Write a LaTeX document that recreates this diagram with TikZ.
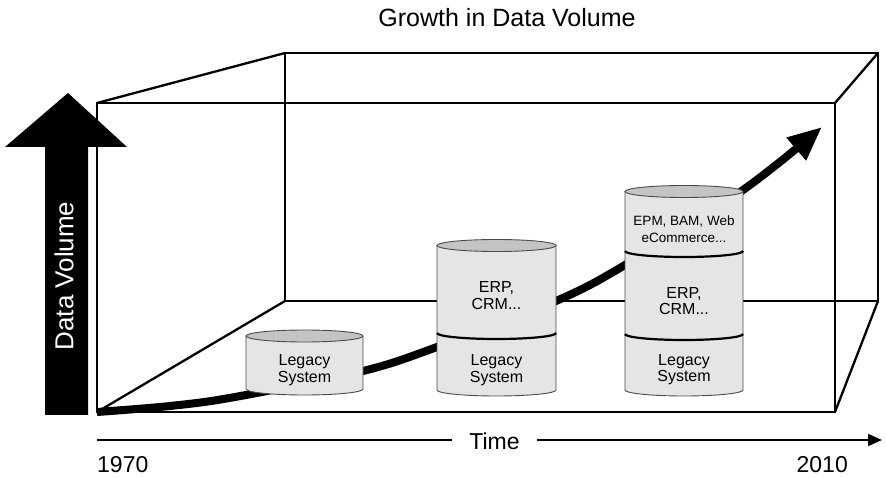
\documentclass[tikz,border=0pt]{standalone}
\usepackage{fontspec}
\setmainfont{Liberation Sans}
\usetikzlibrary{arrows.meta}

\definecolor{drumside}{gray}{0.90}
\definecolor{drumlid}{gray}{0.77}
\definecolor{drumedge}{gray}{0.30}

\tikzset{
  frame/.style={line width=2.3pt, line join=miter},
  drumbody/.style={draw=drumedge, line width=0.9pt, fill=drumside},
  drumtop/.style={draw=drumedge, line width=0.9pt, fill=drumlid},
  divider/.style={line width=2.2pt},
  growth/.style={line width=8pt, -{Triangle[length=34pt,width=28pt]}},
  axis/.style={line width=2pt},
  drumtext/.style={align=center, font=\fontsize{16}{16.5}\selectfont, inner sep=0pt},
}

% drum: name, centre x, half width, lid y, floor y
\newcommand{\drum}[5]{%
  \filldraw[drumbody] (#2-#3,#4) -- (#2-#3,#5)
    arc[start angle=180, end angle=0, x radius=#3, y radius=6] -- (#2+#3,#4) -- cycle;
  \filldraw[drumtop] (#2,#4) ellipse[x radius=#3, y radius=6];
  \coordinate (#1) at (#2,#4);
}
% seam between two layers of a drum
\newcommand{\seam}[3]{%
  \draw[divider] (#1-#2,#3) arc[start angle=180, end angle=0, x radius=#2, y radius=6];
}

\begin{document}
\begin{tikzpicture}[x=1pt, y=-1pt]
  \useasboundingbox (0,0) rectangle (887,478);

  % the box
  \coordinate (f1) at (97,103);
  \coordinate (f2) at (835,103);
  \coordinate (f3) at (835,412);
  \coordinate (f4) at (97,412);
  \coordinate (b1) at (285,53);
  \coordinate (b2) at (878,53);
  \coordinate (b3) at (878,301);
  \coordinate (b4) at (285,301);
  \draw[frame] (b1) -- (b2) -- (b3) -- (b4) -- cycle;
  \draw[frame] (f1) -- (f2) -- (f3) -- (f4) -- cycle;
  \draw[frame] (f1) -- (b1);
  \draw[frame] (f2) -- (b2);
  \draw[frame] (f3) -- (b3);
  \draw[frame] (f4) -- (b4);

  % growth curve
  \coordinate (g0) at (97,412);
  \coordinate (g1) at (822,127);
  \draw[growth] plot[smooth, tension=0.55] coordinates
    {(g0) (170,406) (235,397) (363,371) (437,347) (556,301) (625,265) (743,190) (g1)};

  % drums
  \drum{drumA}{304.5}{58.5}{336}{389}
  \drum{drumB}{496.5}{59.5}{245.5}{390}
  \seam{496.5}{59.5}{333}
  \drum{drumC}{684}{59}{191.5}{390}
  \seam{684}{59}{251}
  \seam{684}{59}{334}

  \node[drumtext] (legacyA) at (304.5,370) {Legacy\\System};
  \node[drumtext] (erpB) at (496.5,295.5) {ERP,\\CRM...};
  \node[drumtext] (legacyB) at (496.5,370) {Legacy\\System};
  \node[drumtext, font=\fontsize{13.5}{16.5}\selectfont] (webC) at (684,229) {EPM, BAM, Web\\eCommerce...};
  \node[drumtext] (erpC) at (684,301) {ERP,\\CRM...};
  \node[drumtext] (legacyC) at (684,369.5) {Legacy\\System};

  % volume arrow
  \fill (45,415) -- (88,415) -- (88,147) -- (127,147) -- (68,93) -- (5,147) -- (45,147) -- cycle;
  \node[white, rotate=90, font=\fontsize{26}{26}\selectfont] (volume) at (64,276) {Data Volume};

  % title
  \node[anchor=base, font=\fontsize{25}{25}\selectfont, inner sep=0pt] (title) at (507,27) {Growth in Data Volume};

  % time axis
  \coordinate (axisL) at (97,440);
  \coordinate (axisR) at (882,440);
  \node[font=\fontsize{23}{23}\selectfont, inner xsep=17pt, inner ysep=0pt] (time) at (494.5,441.5) {Time};
  \draw[axis] (axisL) -- (axisL -| time.west);
  \draw[axis, -{Triangle[length=14pt,width=12pt]}] (axisR -| time.east) -- (axisR);
  \node[anchor=base west, font=\fontsize{23}{23}\selectfont, inner sep=0pt] (start) at (97,472) {1970};
  \node[anchor=base east, font=\fontsize{23}{23}\selectfont, inner sep=0pt] (end) at (848,472) {2010};
\end{tikzpicture}
\end{document}
